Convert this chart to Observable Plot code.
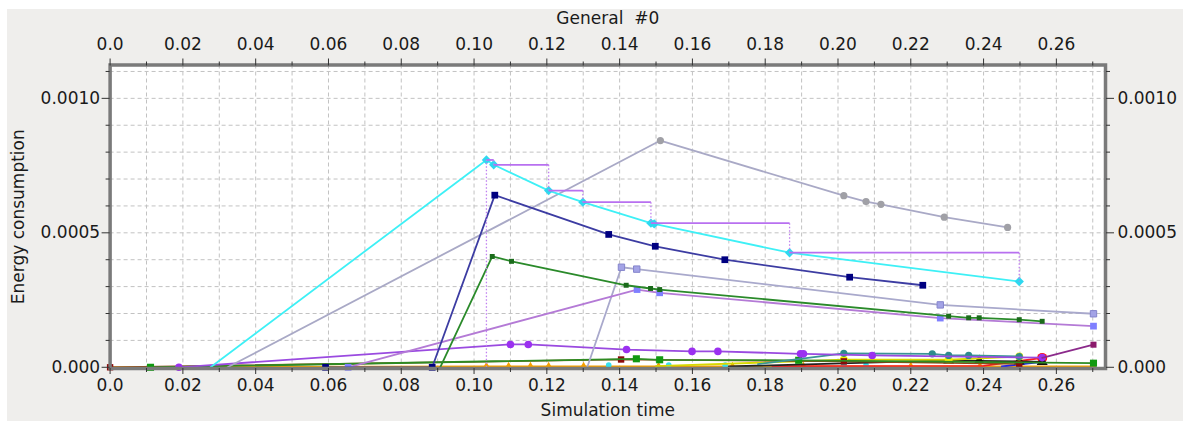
<!DOCTYPE html>
<html><head><meta charset="utf-8">
<script src="https://cdn.jsdelivr.net/npm/d3@7"></script>
<script src="https://cdn.jsdelivr.net/npm/@observablehq/plot@0.6"></script>
<style>
body{margin:0;background:#fff;}
#wrap{position:relative;width:1189px;height:421px;background:#fff;overflow:hidden;}
#bg{position:absolute;left:7px;top:9px;width:1176px;height:412px;background:#efeeec;}
#chart{position:absolute;left:0;top:0;}
</style></head><body>
<div id="wrap"><div id="bg"></div><div id="chart"></div></div>
<script>
// ---- axis ticks ----
const xTicks = [0,0.02,0.04,0.06,0.08,0.10,0.12,0.14,0.16,0.18,0.20,0.22,0.24,0.26];
const xTickLabels = ["0.0","0.02","0.04","0.06","0.08","0.10","0.12","0.14","0.16","0.18","0.20","0.22","0.24","0.26"];
const xMinor = [0.01,0.03,0.05,0.07,0.09,0.11,0.13,0.15,0.17,0.19,0.21,0.23,0.25,0.27];
const xGrid = [0.01,0.02,0.03,0.04,0.05,0.06,0.07,0.08,0.09,0.10,0.11,0.12,0.13,0.14,0.15,0.16,0.17,0.18,0.19,0.20,0.21,0.22,0.23,0.24,0.25,0.26,0.27];
const yTicks = [0,0.0005,0.0010];
const yTickLabels = ["0.000","0.0005","0.0010"];
const yMinor = [0.0001,0.0002,0.0003,0.0004,0.0006,0.0007,0.0008,0.0009,0.0011];
const yGrid = [0.0001,0.0002,0.0003,0.0004,0.0005,0.0006,0.0007,0.0008,0.0009,0.0010,0.0011];

// ---- series values (simulation time, energy) ----
const cyanX = [0.0276,0.1034,0.1054,0.1205,0.1299,0.1486,0.1495,0.1867,0.2498];
const cyanY = [0,0.000771,0.000753,0.000657,0.000614,0.000536,0.000533,0.000426,0.000319];
const stepX = [0.1034,0.1054,0.1205,0.1299,0.1486,0.1867,0.2498];
const stepY = [0.000771,0.000753,0.000657,0.000614,0.000536,0.000426,0.000319];
const grayX = [0.0323,0.1512,0.2016,0.2077,0.2118,0.2292,0.2466];
const grayY = [0,0.000843,0.000638,0.000616,0.000606,0.000558,0.000520];
const navyX = [0.0592,0.0885,0.1057,0.1370,0.1498,0.1689,0.2032,0.2233];
const navyY = [0,0,0.000640,0.000494,0.000450,0.000400,0.000335,0.000305];
const greenX = [0.0907,0.1050,0.1103,0.1418,0.1485,0.1510,0.2304,0.2359,0.2388,0.2498,0.2561];
const greenY = [0,0.000412,0.000394,0.000305,0.000293,0.000289,0.000190,0.000184,0.000184,0.000177,0.000171];
const periX = [0.0654,0.1448,0.1510,0.2281,0.2702];
const periY = [0,0.000289,0.000277,0.000183,0.000153];
const lavX = [0.1311,0.1405,0.1447,0.2281,0.2702];
const lavY = [0,0.000372,0.000365,0.000232,0.000199];
const violetX = [0.0189,0.1100,0.1149,0.1419,0.1599,0.1670,0.1897,0.1905,0.2094,0.2561];
const violetY = [0,0.000085,0.000085,0.000066,0.000059,0.000059,0.000050,0.000050,0.000044,0.000036];
const tealX = [0.1780,0.2016,0.2259,0.2304,0.2359,0.2498];
const tealY = [0.000012,0.000052,0.000050,0.000044,0.000044,0.000040];
const greenLowX = [0.0111,0.1446,0.1510,0.1892,0.2702];
const greenLowY = [0,0.0000316,0.0000279,0.0000260,0.0000152];
const darkRedX = [0,0.1404,0.2016,0.2498];
const darkRedY = [0,0.000029,0.000022,0.000012];
const magentaX = [0.2561,0.2702];
const magentaY = [0.000035,0.000084];
const orangeX = [0,0.1034,0.1095,0.1155,0.1205,0.1301,0.1507,0.1710,0.1905,0.2200,0.2390,0.2702];
const orangeY = [0,0.000003,0.000003,0.000003,0.000003,0.000003,0.000003,0.000003,0.000003,0.000003,0.000003,0.000003];
const aquaX = [0.1370,0.1535,0.1690,0.2016,0.2077];
const aquaY = [0.000008,0.000008,0.000008,0.000008,0.000008];
const yellowX = [0.1500,0.2016,0.2304,0.2498];
const yellowY = [0.000004,0.000028,0.000028,0.000040];
const blackX = [0.1700,0.2304,0.2388,0.2498,0.2561];
const blackY = [0.000003,0.000026,0.000024,0.000022,0.000020];
const redX = [0.1820,0.2400,0.2561];
const redY = [0.000004,0.000005,0.000035];
const blueX = [0.2450,0.2561];
const blueY = [0.000003,0.000020];

// ---- series table + look ----
const series = [
  {name:"orange", x:orangeX, y:orangeY},
  {name:"aqua", x:aquaX, y:aquaY},
  {name:"red", x:redX, y:redY},
  {name:"blue", x:blueX, y:blueY},
  {name:"black", x:blackX, y:blackY},
  {name:"yellow", x:yellowX, y:yellowY},
  {name:"darkRed", x:darkRedX, y:darkRedY},
  {name:"greenLow", x:greenLowX, y:greenLowY},
  {name:"teal", x:tealX, y:tealY},
  {name:"violet", x:violetX, y:violetY},
  {name:"magenta", x:magentaX, y:magentaY},
  {name:"lav", x:lavX, y:lavY},
  {name:"peri", x:periX, y:periY},
  {name:"green", x:greenX, y:greenY},
  {name:"gray", x:grayX, y:grayY},
  {name:"navy", x:navyX, y:navyY},
  {name:"cyan", x:cyanX, y:cyanY}
];
const look = {
  orange:{line:"#f5a000", w:2.2, dot:"#f5a000", sym:"triangle", r:3, m0:1},
  aqua:{line:"none", dot:"#35e0ee", sym:"circle", r:2.8, m0:0},
  red:{line:"#ff1a1a", w:1.8, dot:"#ff1010", sym:"circle", r:5, m0:2},
  blue:{line:"#2020ee", w:1.8, dot:"#1010ff", sym:"triangle", r:4, m0:1},
  black:{line:"#222222", w:1.8, dot:"#111111", sym:"triangle", r:4, m0:1},
  yellow:{line:"#d8d800", w:1.8, dot:"#f0f000", sym:"circle", r:4, m0:1},
  darkRed:{line:"#8b4a1a", w:1.6, dot:"#8b0a0a", sym:"square", r:3.6, m0:0},
  greenLow:{line:"#2e8b22", w:1.8, dot:"#119911", sym:"square", r:4, m0:0},
  teal:{line:"#3a9595", w:1.8, dot:"#2e8b8b", sym:"circle", r:3.6, m0:1},
  violet:{line:"#9a4ae0", w:1.8, dot:"#9b30f0", sym:"circle", r:3.8, m0:0},
  magenta:{line:"#8b2a8b", w:1.8, dot:"#8b1a6b", sym:"square", r:3.4, m0:1},
  lav:{line:"#a9a9cc", w:1.8, dot:"#a3a3e6", stroke:"#8585cc", sym:"square", r:3.6, m0:1},
  peri:{line:"#b47ad6", w:1.8, dot:"#7f7fff", sym:"square", r:3.8, m0:0},
  green:{line:"#2a8a2a", w:1.8, dot:"#1b6b1b", sym:"square", r:2.8, m0:1},
  gray:{line:"#a9a9c6", w:1.8, dot:"#a0a0a6", sym:"circle", r:3.6, m0:1},
  navy:{line:"#3c3ca2", w:1.8, dot:"#000080", sym:"square", r:3.8, m0:0},
  cyan:{line:"#3ef0f6", w:1.8, dot:"#2ed8f0", sym:"diamond2", r:4.2, m0:1}
};

const seriesMarks = series.flatMap(s => {
  const L = look[s.name];
  const rows = s.x.map((x, i) => ({x, y: s.y[i]}));
  const out = [];
  if (L.line !== "none") out.push(Plot.line(rows, {x:"x", y:"y", stroke:L.line, strokeWidth:L.w}));
  out.push(Plot.dot(rows.slice(L.m0), {x:"x", y:"y", symbol:L.sym, r:L.r, fill:L.dot, stroke:L.stroke || "none", strokeWidth:1}));
  return out;
});

// step (max) trace: horizontal solid, vertical dotted
const stepH = stepX.slice(1).map((x, i) => ({x1: stepX[i], x2: x, y1: stepY[i], y2: stepY[i]}));
const stepV = [{x1: stepX[0], x2: stepX[0], y1: 0, y2: stepY[0]}].concat(
  stepX.slice(1).map((x, i) => ({x1: x, x2: x, y1: stepY[i], y2: stepY[i + 1]})));

const fmtX = d => xTickLabels[xTicks.indexOf(d)];
const fmtY = d => yTickLabels[yTicks.indexOf(d)];

const chart = Plot.plot({
  width: 1189, height: 421,
  marginLeft: 109.6, marginRight: 84, marginTop: 64.5, marginBottom: 53,
  x: {domain: [0, 0.2735]},
  y: {domain: [-0.0000045, 0.001124]},
  style: {background: "transparent", fontFamily: "'DejaVu Sans', sans-serif", fontSize: "17px", color: "#1a1a1a"},
  marks: [
    Plot.frame({fill: "white", stroke: "none"}),
    Plot.gridX({ticks: xGrid, stroke: "#c2c2c2", strokeOpacity: 1, strokeDasharray: "4,3"}),
    Plot.gridY({ticks: yGrid, stroke: "#c2c2c2", strokeOpacity: 1, strokeDasharray: "4,3"}),
    ...seriesMarks,
    Plot.link(stepH, {x1: "x1", x2: "x2", y1: "y1", y2: "y2", stroke: "#b870f0", strokeWidth: 1.8}),
    Plot.link(stepV, {x1: "x1", x2: "x2", y1: "y1", y2: "y2", stroke: "#c080f0", strokeWidth: 1.3, strokeDasharray: "1.5,2"}),
    Plot.frame({stroke: "#7a7a7a", strokeWidth: 3.5}),
    Plot.axisX({anchor: "bottom", ticks: xTicks, tickFormat: fmtX, tickSize: 6, tickPadding: 4, label: null, stroke: "#333"}),
    Plot.axisX({anchor: "bottom", ticks: xMinor, tickSize: 4, fill: "none", label: null, stroke: "#333"}),
    Plot.axisX({anchor: "top", ticks: xTicks, tickFormat: fmtX, tickSize: 7, tickPadding: 8, label: null, stroke: "#333"}),
    Plot.axisX({anchor: "top", ticks: xMinor, tickSize: 4, fill: "none", label: null, stroke: "#333"}),
    Plot.axisY({anchor: "left", ticks: yTicks, tickFormat: fmtY, tickSize: 8, tickPadding: 2, label: null, stroke: "#333"}),
    Plot.axisY({anchor: "left", ticks: yMinor, tickSize: 4, fill: "none", label: null, stroke: "#333"}),
    Plot.axisY({anchor: "right", ticks: yTicks, tickFormat: fmtY, tickSize: 8, tickPadding: 4, label: null, stroke: "#333"}),
    Plot.axisY({anchor: "right", ticks: yMinor, tickSize: 4, fill: "none", label: null, stroke: "#333"}),
    Plot.text(["General\u00a0 #0"], {text: d => d, frameAnchor: "top", lineAnchor: "middle", dy: -46.5, fontSize: 17}),
    Plot.text(["Simulation time"], {text: d => d, frameAnchor: "bottom", lineAnchor: "middle", dy: 42, fontSize: 17}),
    Plot.text(["Energy consumption"], {text: d => d, frameAnchor: "left", textAnchor: "middle", lineAnchor: "middle", rotate: -90, dx: -92, fontSize: 17})
  ]
});
document.getElementById("chart").appendChild(chart);
</script>
</body></html>
